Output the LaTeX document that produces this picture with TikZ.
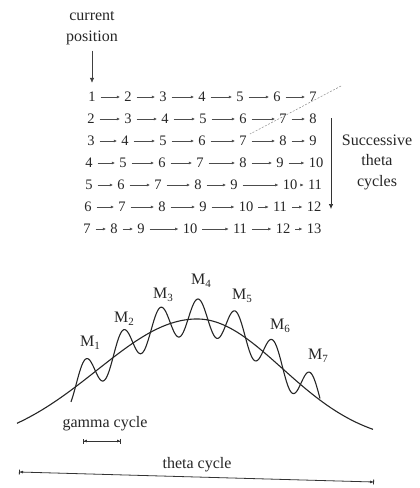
\documentclass[tikz,border=0pt]{standalone}
\usepackage{fontspec}
\setmainfont{Liberation Serif}
\usetikzlibrary{arrows.meta}
\newcommand\Msub[1]{M\raisebox{-0.45ex}{\fontsize{11}{11}\selectfont #1}}
\tikzset{
  ink/.style={black!85},
  lbl/.style={ink, inner sep=1pt, align=center, font=\fontsize{16}{20.5}\selectfont},
  num/.style={ink, inner sep=1.2pt, font=\fontsize{14.5}{15}\selectfont},
  numarr/.style={black!70, line width=0.55pt, shorten <=3.5pt, shorten >=3pt, -{Latex[length=3.2pt,width=3pt]}},
  mlab/.style={ink, inner sep=0pt, font=\fontsize{16}{16}\selectfont},
  curve/.style={black!85, line width=1.1pt, line join=round},
  dim/.style={black!80, line width=0.8pt, {Bar[width=5pt]Latex[length=3pt,width=3pt]}-{Latex[length=3pt,width=3pt]Bar[width=5pt]}},
}
\begin{document}
\begin{tikzpicture}[x=1pt,y=-1pt]
\useasboundingbox (0,0) rectangle (420,488);

% current position
\node[lbl] (cur) at (92,28) {current\\position};

% number grid
\foreach \x [count=\c] in {92,128,163,202,240,277,313} {\pgfmathtruncatemacro\v{\c+0}\node[num] (n1-\c) at (\x,97) {\v};}
\foreach \x [count=\c] in {91,128,165,203,243,283,313} {\pgfmathtruncatemacro\v{\c+1}\node[num] (n2-\c) at (\x,119) {\v};}
\foreach \x [count=\c] in {91,125,163,202,243,283,313} {\pgfmathtruncatemacro\v{\c+2}\node[num] (n3-\c) at (\x,141) {\v};}
\foreach \x [count=\c] in {89,123,162,200,243,280,316} {\pgfmathtruncatemacro\v{\c+3}\node[num] (n4-\c) at (\x,163) {\v};}
\foreach \x [count=\c] in {89,121,158,198,234,290,315} {\pgfmathtruncatemacro\v{\c+4}\node[num] (n5-\c) at (\x,185) {\v};}
\foreach \x [count=\c] in {88,122,162,203,246,280,314} {\pgfmathtruncatemacro\v{\c+5}\node[num] (n6-\c) at (\x,207) {\v};}
\foreach \x [count=\c] in {87,114,141,190,240,283,314} {\pgfmathtruncatemacro\v{\c+6}\node[num] (n7-\c) at (\x,229) {\v};}
\foreach \r in {1,...,7} {
  \foreach \a [evaluate=\a as \b using int(\a+1)] in {1,...,6} {
    \draw[numarr] (n\r-\a) -- (n\r-\b);
  }
}

% arrow from label to first number
\draw[black!75, line width=0.6pt, shorten <=5pt, shorten >=8pt, -{Latex[length=5pt,width=4.5pt]}] (cur.south) -- (n1-1.north);

% faint diagonal dashed line
\coordinate (d1) at (341,86);
\coordinate (d2) at (250,134);
\draw[black!45, line width=0.5pt, dash pattern=on 2pt off 1.5pt] (d1) -- (d2);

% successive theta cycles
\coordinate (va) at (331,118);
\coordinate (vb) at (331,209);
\draw[black!80, line width=0.7pt, -{Latex[length=5pt,width=4.5pt]}] (va) -- (vb);
\node[lbl] (succ) at (377,162) {Successive\\theta\\cycles};

% theta (broad) curve
\draw[curve] plot[domain=17:197, samples=90, smooth] (\x, {319 + 130*(1-exp(-((\x-197)/100)^2/2))})
  -- plot[domain=197:373, samples=90, smooth] (\x, {319 + 125*(1-exp(-((\x-197)/85)^2/2))});

% gamma oscillations riding on theta
\draw[curve] plot[domain=71:197, samples=130, smooth] (\x, {317 + 130*(1-exp(-((\x-197)/100)^2/2)) - 18*cos(9.6*(\x-198))})
  -- plot[domain=197:320, samples=130, smooth] (\x, {317 + 125*(1-exp(-((\x-197)/85)^2/2)) - 18*cos(9.6*(\x-198))});

% M labels
\node[mlab] (m1) at (90,343) {\Msub{1}};
\node[mlab] (m2) at (124,319) {\Msub{2}};
\node[mlab] (m3) at (163,295) {\Msub{3}};
\node[mlab] (m4) at (201,281) {\Msub{4}};
\node[mlab] (m5) at (242,296) {\Msub{5}};
\node[mlab] (m6) at (280,326) {\Msub{6}};
\node[mlab] (m7) at (318,356) {\Msub{7}};

% gamma cycle
\node[lbl] (gam) at (105,424) {gamma cycle};
\coordinate (g1) at (83,441);
\coordinate (g2) at (121,441);
\draw[dim] (g1) -- (g2);

% theta cycle
\node[lbl] (the) at (197,465) {theta cycle};
\coordinate (t1) at (19,472);
\coordinate (t2) at (374,482);
\draw[dim] (t1) -- (t2);
\end{tikzpicture}
\end{document}
